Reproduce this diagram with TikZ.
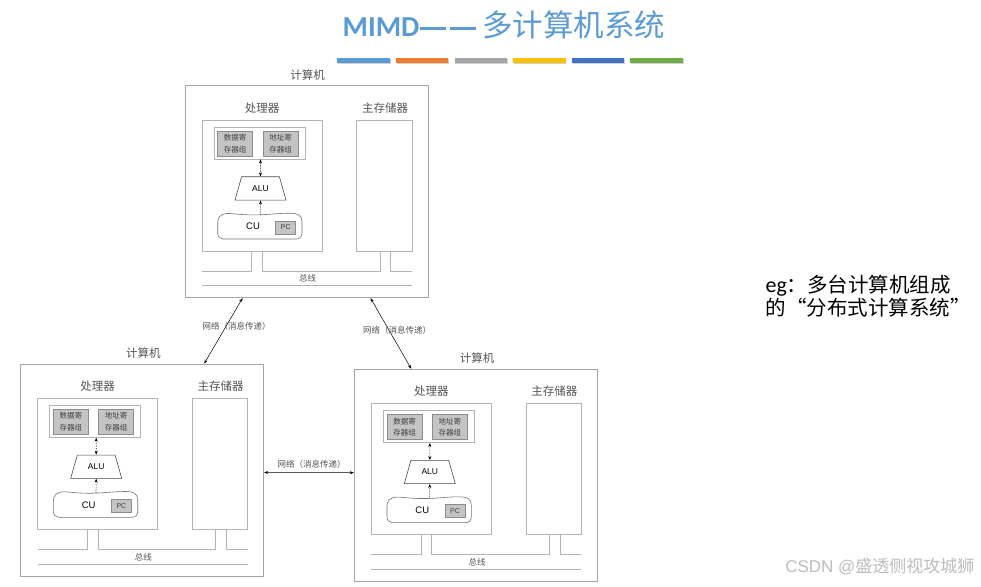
\documentclass[tikz,border=0pt]{standalone}
\usepackage{fontspec}
\setmainfont{Noto Sans CJK SC}
\newfontfamily\calib{Carlito}
\newfontfamily\helv{Liberation Sans}
\usetikzlibrary{shapes.geometric, arrows.meta, calc}
\definecolor{titleblue}{HTML}{5B9BD5}
\definecolor{barblue}{HTML}{5B9BD5}
\definecolor{barorange}{HTML}{ED7D31}
\definecolor{bargray}{HTML}{A5A5A5}
\definecolor{baryellow}{HTML}{FFC000}
\definecolor{bardarkblue}{HTML}{4472C4}
\definecolor{bargreen}{HTML}{70AD47}
\definecolor{boxgray}{HTML}{A6A6A6}
\definecolor{linegray}{HTML}{B4B4B4}
\definecolor{labelgray}{HTML}{555555}
\definecolor{regfill}{HTML}{C4C4C4}
\definecolor{regline}{HTML}{8C8C8C}
\definecolor{wmgray}{HTML}{BDBDBD}

\begin{document}
\begin{tikzpicture}[x=1pt, y=-1pt,
    comp/.style={draw=boxgray, line width=0.9pt, minimum width=243pt, minimum height=212pt, inner sep=0pt},
    unit/.style={draw=linegray, line width=0.8pt, inner sep=0pt},
    regbox/.style={draw=regline, fill=regfill, line width=0.6pt, inner sep=0pt, minimum width=35pt, minimum height=25pt, align=center, text=black!75, font=\fontsize{7.5}{11.5}\selectfont},
    name lbl/.style={text=labelgray, font=\fontsize{11.5}{13}\selectfont},
    small lbl/.style={text=labelgray, font=\fontsize{8.5}{10}\selectfont},
    busline/.style={draw=linegray, line width=0.8pt},
    tip/.style={{Stealth[length=4pt,width=3pt]}-{Stealth[length=4pt,width=3pt]}},
    net/.style={tip, black, line width=0.5pt}]
  \useasboundingbox[fill=white] (0,0) rectangle (981,586);

  % title and colour bars
  \node[anchor=west, text=titleblue, inner sep=0pt, font=\fontsize{30.5}{31}\selectfont] (title) at (342.5,25) {{\calib\bfseries\fontsize{29}{30}\selectfont MIMD}\kern1pt\rule[6.5pt]{26pt}{3pt}\kern3.7pt\rule[6.5pt]{26.3pt}{3pt}\kern6pt 多计算机系统};
  \foreach \col [count=\i] in {barblue, barorange, bargray, baryellow, bardarkblue, bargreen} {
    \fill[black!18] ({337.3+(\i-1)*58.6+0.8},59.3) rectangle ++(52.5,5);
    \fill[\col] ({337.3+(\i-1)*58.6},58.3) rectangle ++(52.5,5);
  }

  % the three computers
  \foreach \comp/\x/\y in {A/185/85.7, B/20.7/364, C/354.3/369.3} {
    \begin{scope}[shift={(\x,\y)}]
      \node[comp] (\comp) at (121.5,106) {};
      \node[name lbl] (\comp-name) at (122.7,-10.7) {计算机};
      \node[name lbl] (\comp-plbl) at (77,22) {处理器};
      \node[name lbl] (\comp-mlbl) at (200,22) {主存储器};
      \node[unit, minimum width=120pt, minimum height=131pt] (\comp-proc) at (77,99.8) {};
      \node[unit, minimum width=55.3pt, minimum height=131pt] (\comp-mem) at (199.35,99.8) {};
      \node[unit, minimum width=91pt, minimum height=32pt] (\comp-regs) at (74.5,57.3) {};
      \node[regbox] (\comp-dreg) at (50.2,57.7) {数据寄\\存器组};
      \node[regbox] (\comp-areg) at (95.5,57.7) {地址寄\\存器组};
      \node[trapezium, draw=black!70, line width=0.6pt, trapezium stretches=true, trapezium angle=64, minimum width=51pt, minimum height=23.3pt, inner sep=0pt, font=\helv\fontsize{8.5}{9}\selectfont] (\comp-alu) at (75.5,102.7) {ALU};
      \draw[draw=black!55, line width=0.6pt] (38,153.3) -- (111,153.3) .. controls (115,153.3) and (117,151) .. (117,147.3)
        -- (117,136) .. controls (117,130) and (113,127.5) .. (106,127.5)
        .. controls (88,127.5) and (80,130) .. (60,129) .. controls (50,128.5) and (45,127.5) .. (42,127.8)
        .. controls (35,128.5) and (32.7,132) .. (32.7,137) -- (32.7,147.3)
        .. controls (32.7,151) and (35,153.3) .. (38,153.3) -- cycle;
      \coordinate (\comp-cutop) at (75.3,128.8);
      \node[font=\helv\fontsize{9.5}{10}\selectfont] (\comp-cu) at (68,141) {CU};
      \node[regbox, minimum width=20pt, minimum height=13pt, font=\helv\fontsize{7}{8}\selectfont] (\comp-pc) at (100.7,141.8) {PC};
      \draw[tip, densely dotted, line width=0.6pt] (\comp-regs.south -| \comp-alu) -- (\comp-alu.north);
      \draw[-{Stealth[length=4pt,width=3pt]}, densely dotted, line width=0.6pt] (\comp-cutop) -- (\comp-alu.south);
      % bus
      \draw[busline] (17,185.3) -| (66.7,165.3);
      \draw[busline] (77.3,165.3) |- (195,185.3) -- (195,165.3);
      \draw[busline] (205.7,165.3) |- (227,185.3);
      \draw[busline] (17,200) -- (227,200);
      \node[small lbl] (\comp-bus) at (122.7,193) {总线};
    \end{scope}
  }

  % network links
  \draw[net] ([xshift=58pt]A.south west) -- ([xshift=184pt]B.north west);
  \draw[net] ([xshift=186pt]A.south west) -- ([xshift=57.4pt]C.north west);
  \draw[net] ([yshift=-2.5pt]B.east) -- ([yshift=2.6pt]C.west);
  \node[small lbl] (net1) at (236.7,326) {网络（消息传递）};
  \node[small lbl] (net2) at (397,330) {网络（消息传递）};
  \node[small lbl] (net3) at (311.7,464) {网络（消息传递）};

  % side note
  \node[anchor=west, align=left, font=\fontsize{20.5}{23}\selectfont] (note) at (762,296.5) {{\calib\fontsize{22}{23}\selectfont eg}：多台计算机组成\\的“分布式计算系统”};
  \node[anchor=east, text=wmgray, font=\fontsize{17}{17}\selectfont] (csdn) at (978,567) {{\helv CSDN @}盛透侧视攻城狮};
\end{tikzpicture}
\end{document}
